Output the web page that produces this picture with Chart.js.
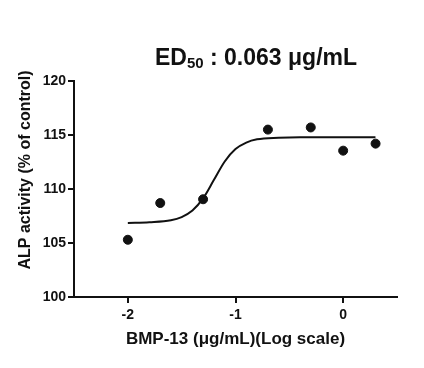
<!DOCTYPE html>
<html><head><meta charset="utf-8">
<script src="https://cdn.jsdelivr.net/npm/chart.js@4"></script>
<style>html,body{margin:0;padding:0;background:#fff}#wrap{width:424px;height:368px}</style>
</head><body><div id="wrap"><canvas id="c" width="424" height="368"></canvas></div>
<script>
const doseLog = [-2, -1.699, -1.301, -0.699, -0.301, 0, 0.301];
const activity = [105.3, 108.7, 109.05, 115.5, 115.7, 113.55, 114.2];
const curveLog = [-2, -1.8, -1.6, -1.5, -1.4, -1.3, -1.2, -1.1, -1.0, -0.9, -0.8, -0.6, -0.4, -0.2, 0, 0.3];
const curveVal = [106.85, 106.92, 107.1, 107.4, 108.0, 109.15, 110.85, 112.55, 113.7, 114.3, 114.6, 114.75, 114.8, 114.8, 114.8, 114.8];
const xTicks = [-2, -1, 0];
const yTicks = [100, 105, 110, 115, 120];
const titleMain = 'ED';
const titleSub = '50';
const titleRest = ' : 0.063 \u03bcg/mL';
const xTitle = 'BMP-13 (\u03bcg/mL)(Log scale)';
const yTitle = 'ALP activity (% of control)';

const FONT = '"Liberation Sans", Arial, sans-serif';
const curvePts = curveLog.map((x, i) => ({x, y: curveVal[i]}));
const dataPts = doseLog.map((x, i) => ({x, y: activity[i]}));

const textPlugin = {
  id: 'texts',
  afterDraw(chart) {
    const ctx = chart.ctx;
    ctx.save();
    ctx.fillStyle = '#111';
    ctx.textBaseline = 'alphabetic';
    ctx.font = 'bold 23px ' + FONT;
    const w1 = ctx.measureText(titleMain).width;
    ctx.font = 'bold 15px ' + FONT;
    const w2 = ctx.measureText(titleSub).width;
    ctx.font = 'bold 23px ' + FONT;
    const w3 = ctx.measureText(titleRest).width;
    let x = 256 - (w1 + w2 + w3) / 2;
    const base = 65;
    ctx.fillText(titleMain, x, base); x += w1;
    ctx.font = 'bold 15px ' + FONT;
    ctx.fillText(titleSub, x, base + 3); x += w2;
    ctx.font = 'bold 23px ' + FONT;
    ctx.fillText(titleRest, x, base);
    ctx.font = 'bold 16px ' + FONT;
    ctx.translate(26, 170);
    ctx.rotate(-Math.PI / 2);
    ctx.textAlign = 'center';
    ctx.textBaseline = 'middle';
    ctx.fillText(yTitle, 0, 0);
    ctx.restore();
  }
};

new Chart(document.getElementById('c'), {
  type: 'scatter',
  data: {
    datasets: [
      {
        data: curvePts, showLine: true, borderColor: '#111', borderWidth: 2,
        pointRadius: 0, cubicInterpolationMode: 'monotone', fill: false
      },
      {
        data: dataPts, showLine: false, backgroundColor: '#111', borderColor: '#111',
        pointRadius: 4.5, pointHoverRadius: 4.5
      }
    ]
  },
  options: {
    responsive: false, animation: false,
    layout: { padding: { top: 81, right: 27, left: 0, bottom: 0 } },
    plugins: { legend: { display: false }, tooltip: { enabled: false } },
    scales: {
      x: {
        type: 'linear', min: -2.5, max: 0.5,
        afterBuildTicks: s => { s.ticks = xTicks.map(v => ({value: v})); },
        afterFit: s => { s.height = 71; },
        border: { display: true, color: '#111', width: 2 },
        grid: { display: true, drawOnChartArea: false, drawTicks: true, tickLength: 6, color: '#111', lineWidth: 2 },
        ticks: { color: '#111', font: { family: FONT, size: 14, weight: 'bold' }, padding: 4, maxRotation: 0 },
        title: { display: true, text: xTitle, color: '#111', font: { family: FONT, size: 17, weight: 'bold' }, padding: { top: 4, bottom: 18 } }
      },
      y: {
        type: 'linear', min: 100, max: 120,
        afterBuildTicks: s => { s.ticks = yTicks.map(v => ({value: v})); },
        afterFit: s => { s.width = 74; },
        border: { display: true, color: '#111', width: 2 },
        grid: { display: true, drawOnChartArea: false, drawTicks: true, tickLength: 6, color: '#111', lineWidth: 2 },
        ticks: { color: '#111', font: { family: FONT, size: 14, weight: 'bold' }, padding: 2 }
      }
    }
  },
  plugins: [textPlugin]
});
</script>
</body></html>
